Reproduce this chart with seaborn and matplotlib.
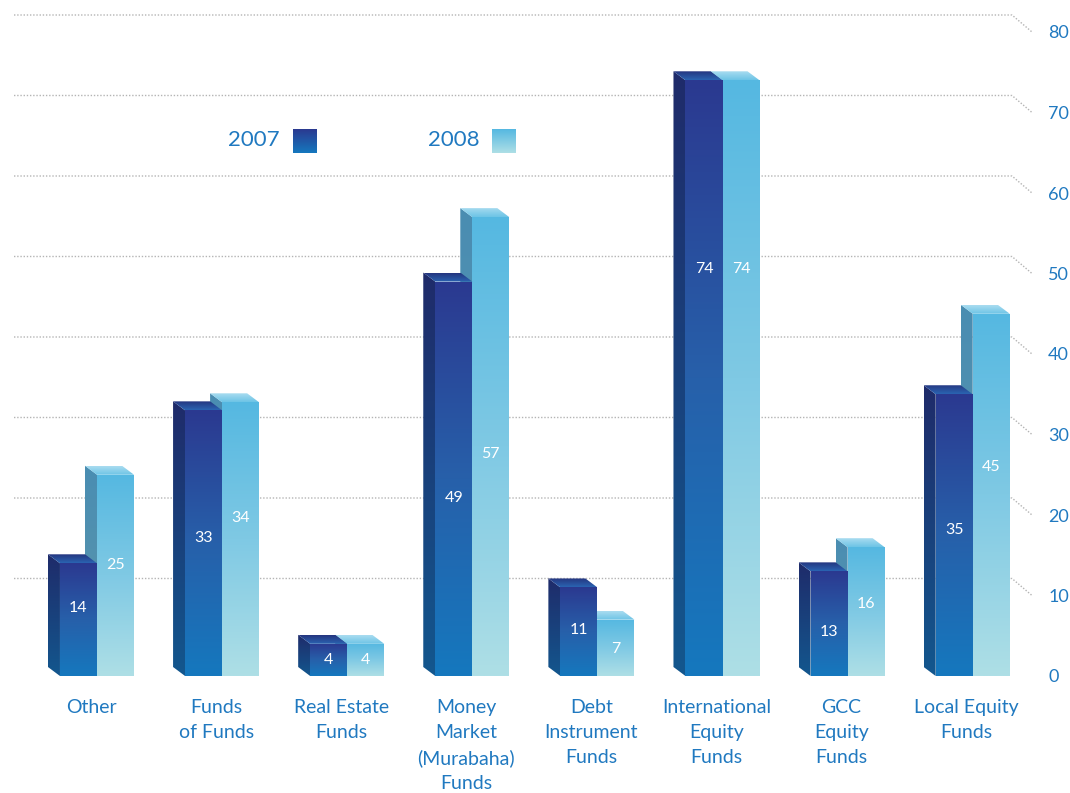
import numpy as np
import pandas as pd
import matplotlib
matplotlib.use("Agg")
import matplotlib.pyplot as plt
import seaborn as sns
from matplotlib.colors import to_rgb
from matplotlib.patches import Polygon
from matplotlib.transforms import ScaledTranslation

# ---- data -------------------------------------------------------------
categories = ["Other", "Funds\nof Funds", "Real Estate\nFunds",
              "Money\nMarket\n(Murabaha)\nFunds", "Debt\nInstrument\nFunds",
              "International\nEquity\nFunds", "GCC\nEquity\nFunds",
              "Local Equity\nFunds"]
years = ["2007", "2008"]
funds_2007 = [14, 33, 4, 49, 11, 74, 13, 35]
funds_2008 = [25, 34, 4, 57, 7, 74, 16, 45]
y_ticks = [0, 10, 20, 30, 40, 50, 60, 70, 80]

# heights (in value units) at which the number sits inside each bar
label_at_2007 = [8.4, 17.1, 2.0, 22.1, 5.7, 50.6, 5.5, 18.1]
label_at_2008 = [13.8, 19.6, 2.0, 27.6, 3.3, 50.6, 9.0, 26.0]

df = pd.DataFrame({
    "category": categories * 2,
    "value": funds_2007 + funds_2008,
    "year": [years[0]] * len(categories) + [years[1]] * len(categories),
})

# ---- styling ----------------------------------------------------------
sns.set_theme(style="white")
plt.rcParams["font.family"] = ["Lato", "DejaVu Sans"]

BLUE_TEXT = "#2079c0"
GRID = "#b4b4b4"

FRONT = {"2007": ["#2b3990", "#2760aa", "#1578be"],
         "2008": ["#55b8e1", "#7fc9e4", "#aedfe6"]}
SIDE = {"2007": ["#1f2b6a", "#13578e"],
        "2008": ["#4a8db2", "#5d97ab"]}
TOP = {"2007": ["#25357f", "#2a64b2"],
       "2008": ["#aadcf0", "#6cc4e6"]}
LAYER = {"2007": 4, "2008": 2}

W, H = 1070, 793
BASE = 676          # pixel row of the zero line
AX_RIGHT = 1040     # right edge of the plotting area
PX_X = 125.1        # pixels per category step
PX_Y = 8.05         # pixels per value unit
DEPTH_X = 12 / PX_X
DEPTH_Y = 9 / PX_Y

fig = plt.figure(figsize=(W / 100, H / 100), dpi=100)
ax = fig.add_axes([0, (H - BASE) / H, AX_RIGHT / W, BASE / H])

sns.barplot(data=df, x="category", y="value", hue="year", hue_order=years,
            order=categories, palette=[FRONT[y][0] for y in years],
            width=0.592, gap=0, saturation=1, legend=False, errorbar=None,
            ax=ax)

xmin = -97 / PX_X
ax.set_xlim(xmin, xmin + AX_RIGHT / PX_X)
ax.set_ylim(0, BASE / PX_Y)


def gradient(colors, n=256):
    stops = np.linspace(0, 1, len(colors))
    rgb = np.array([to_rgb(c) for c in colors])
    t = np.linspace(0, 1, n)
    arr = np.stack([np.interp(t, stops, rgb[:, k]) for k in range(3)], axis=-1)
    return arr[:, None, :]


def fill(poly, colors, z):
    ax.add_patch(poly)
    xs, ys = poly.get_xy()[:, 0], poly.get_xy()[:, 1]
    im = ax.imshow(gradient(colors), extent=(xs.min(), xs.max(), ys.min(), ys.max()),
                   origin="upper", aspect="auto", interpolation="bilinear",
                   zorder=z)
    im.set_clip_path(poly)


for bar in list(ax.patches):
    x0, w, h = bar.get_x(), bar.get_width(), bar.get_height()
    cx = x0 + w / 2
    idx = int(round(cx))
    yr = years[0] if cx < idx else years[1]
    z = LAYER[yr]
    bar.set_facecolor("none")
    bar.set_edgecolor("none")
    x1 = x0 + w
    front = Polygon([(x0, 0), (x1, 0), (x1, h), (x0, h)], closed=True,
                    facecolor="none", edgecolor="none")
    side = Polygon([(x0, 0), (x0, h), (x0 - DEPTH_X, h + DEPTH_Y),
                    (x0 - DEPTH_X, DEPTH_Y)], closed=True,
                   facecolor="none", edgecolor="none")
    top = Polygon([(x0, h), (x1, h), (x1 - DEPTH_X, h + DEPTH_Y),
                   (x0 - DEPTH_X, h + DEPTH_Y)], closed=True,
                  facecolor="none", edgecolor="none")
    fill(side, SIDE[yr], z)
    fill(top, TOP[yr], z)
    fill(front, FRONT[yr], z + 0.5)
    label_at = label_at_2007 if yr == years[0] else label_at_2008
    ax.text(cx, label_at[idx], f"{int(round(h))}", ha="center", va="center",
            color="white", fontsize=11.5, zorder=z + 1)

# dotted grid lines that bend down toward the value labels
gx0 = (14 - 97) / PX_X
gknee = (1012 - 97) / PX_X
gend = (1032 - 97) / PX_X
lift = 17 / PX_Y
for v in y_ticks[1:]:
    ax.plot([gx0, gknee, gend], [v + lift, v + lift, v], color=GRID, lw=1.0,
            ls=(0, (1, 1.3)), zorder=1, clip_on=False)

# axes
for s in ax.spines.values():
    s.set_visible(False)
ax.grid(False)
ax.set_xlabel("")
ax.set_ylabel("")
ax.yaxis.tick_right()
ax.set_yticks(y_ticks)
ax.set_yticklabels([str(t) for t in y_ticks])
ax.tick_params(axis="y", length=0, pad=5.8, labelsize=13, labelcolor=BLUE_TEXT)
ax.set_xticks(range(len(categories)))
ax.set_xticklabels(categories, linespacing=1.56)
ax.tick_params(axis="x", length=0, pad=16.5, labelsize=14, labelcolor=BLUE_TEXT)
shift = ScaledTranslation(-6 / 100, 0, fig.dpi_scale_trans)
for lbl in ax.get_xticklabels():
    lbl.set_transform(lbl.get_transform() + shift)

# legend
for yr, tx, sx in [(years[0], 228, 293), (years[1], 428, 492)]:
    fig.text(tx / W, 1 - 140 / H, yr, ha="left", va="center", fontsize=16,
             color=BLUE_TEXT)
    lax = fig.add_axes([sx / W, 1 - 153 / H, 24 / W, 24 / H])
    lax.imshow(gradient([FRONT[yr][0], FRONT[yr][-1]]), aspect="auto",
               origin="upper", interpolation="bilinear")
    lax.set_axis_off()

fig.savefig("out.png", dpi=100)
